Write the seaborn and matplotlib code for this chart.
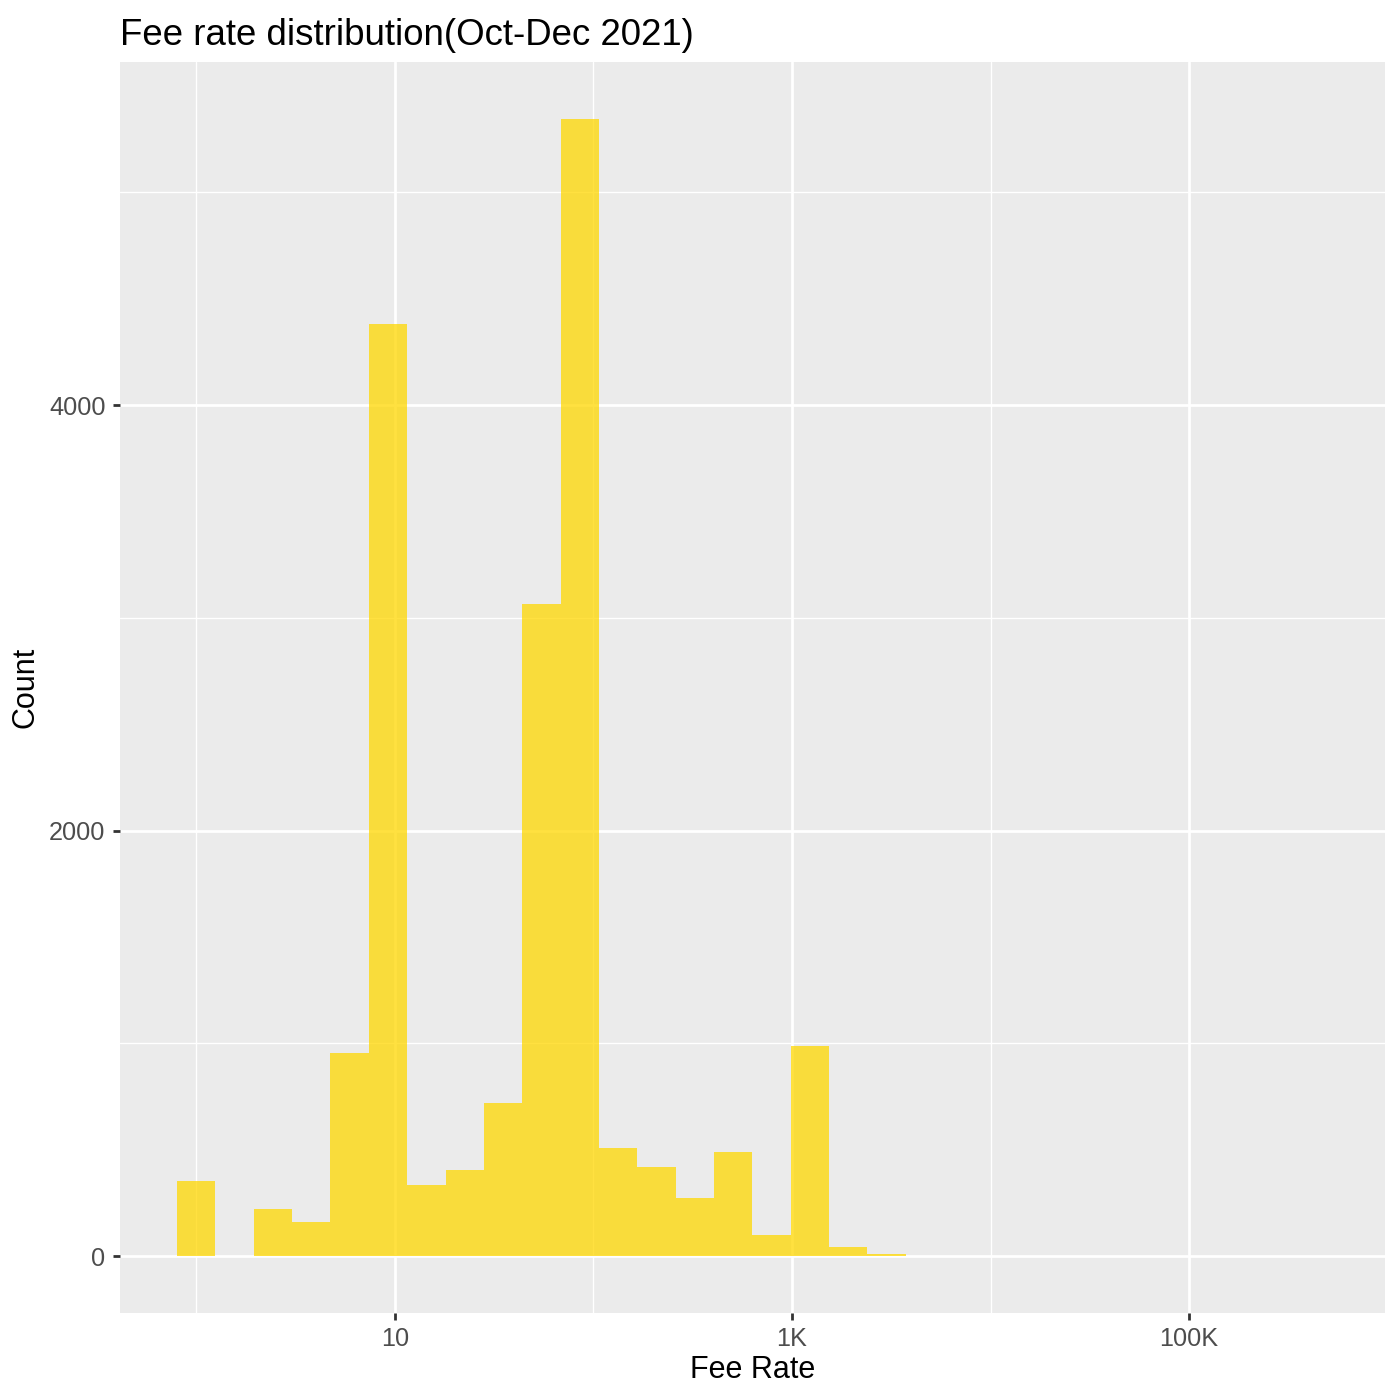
import numpy as np
import pandas as pd
import matplotlib
matplotlib.use("Agg")
import matplotlib.pyplot as plt
import seaborn as sns
from matplotlib.ticker import FixedLocator, FixedFormatter, NullFormatter

# histogram of fee rates, 30 bins spaced evenly on log10 from 1 to ~400K
n_bins = 30
log_first = 0.0
log_last = 5.6
counts = [353, 0, 221, 160, 953, 4381, 335, 404, 718, 3066,
          5346, 508, 418, 274, 489, 100, 989, 42, 8, 2,
          2, 0, 0, 1, 0, 0, 0, 0, 0, 1]
x_major = [10, 1000, 100000]
x_major_labels = ["10", "1K", "100K"]
x_minor = [1, 100, 10000]
y_major = [0, 2000, 4000]
y_minor = [1000, 3000, 5000]

bin_centers = np.logspace(log_first, log_last, n_bins)
df = pd.DataFrame({"fee_rate": bin_centers, "n": counts})
half = (log_last - log_first) / (n_bins - 1) / 2

sns.set_style("darkgrid", {"axes.facecolor": "#EBEBEB", "grid.color": "white",
                           "axes.edgecolor": "none"})
plt.rcParams["font.family"] = ["Liberation Sans", "DejaVu Sans"]

fig = plt.figure(figsize=(7, 7), dpi=200)
ax = fig.add_axes([0.0854, 0.0621, 0.9039, 0.8936])

sns.histplot(data=df, x="fee_rate", weights="n", bins=n_bins,
             binrange=(log_first - half, log_last + half), log_scale=True,
             color="#FFD700", alpha=0.75, linewidth=0, ax=ax)

# ggplot-like expansion of 5% on each side
lo = log_first - half
hi = log_last + half
pad = 0.05 * (hi - lo)
ax.set_xlim(10 ** (lo - pad), 10 ** (hi + pad))
ymax = max(counts)
ax.set_ylim(-0.05 * ymax, 1.05 * ymax)

ax.xaxis.set_major_locator(FixedLocator(x_major))
ax.xaxis.set_major_formatter(FixedFormatter(x_major_labels))
ax.xaxis.set_minor_locator(FixedLocator(x_minor))
ax.xaxis.set_minor_formatter(NullFormatter())
ax.yaxis.set_major_locator(FixedLocator(y_major))
ax.yaxis.set_minor_locator(FixedLocator(y_minor))

ax.grid(which="major", color="white", linewidth=1.0)
ax.grid(which="minor", color="white", linewidth=0.5)
ax.set_axisbelow(True)
ax.tick_params(which="major", length=2.6, width=1.0, color="#333333",
               labelcolor="#4D4D4D", labelsize=9.1, pad=2.5,
               bottom=True, left=True)
ax.tick_params(which="minor", length=0)
for s in ax.spines.values():
    s.set_visible(False)

ax.set_xlabel("Fee Rate", fontsize=11, color="black", labelpad=1.5)
ax.set_ylabel("Count", fontsize=11, color="black", labelpad=3)
ax.set_title("Fee rate distribution(Oct-Dec 2021)", loc="left",
             fontsize=13.2, color="black", pad=6)

fig.savefig("out.png", dpi=200)
